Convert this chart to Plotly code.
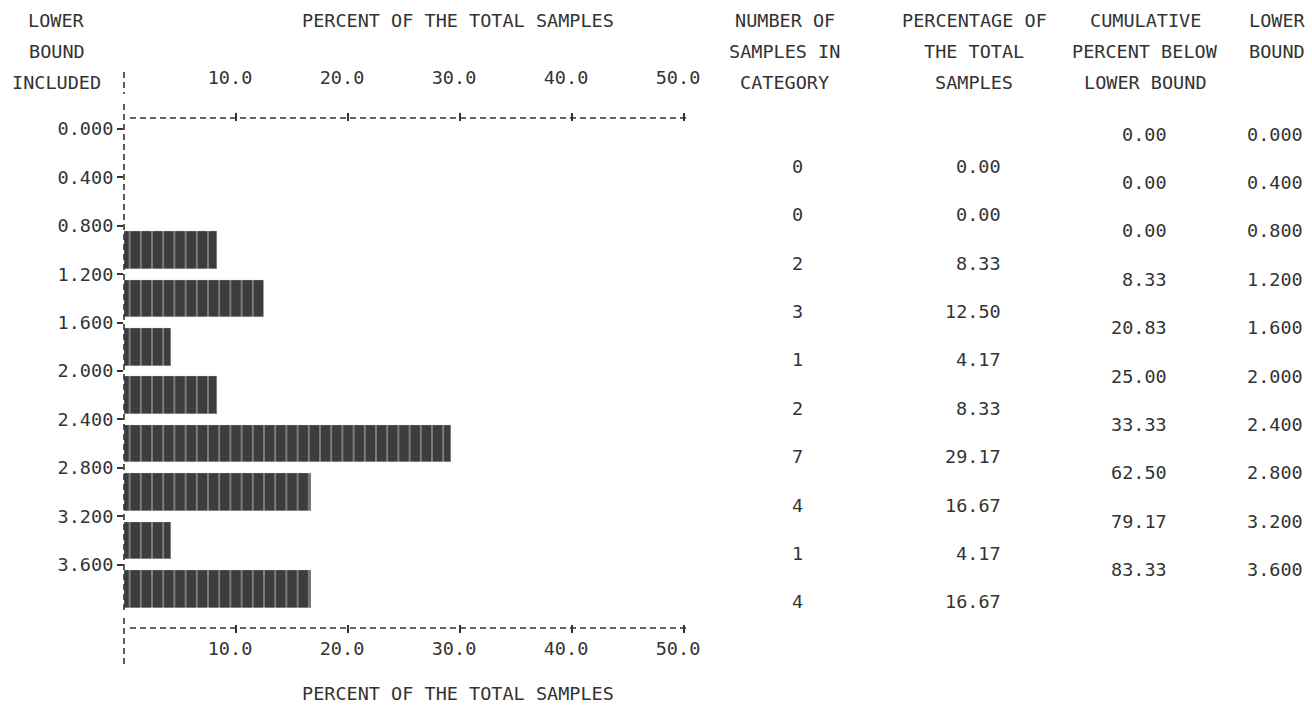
import plotly.graph_objects as go

# ---------------- data ----------------
bin_lower = [0.0, 0.4, 0.8, 1.2, 1.6, 2.0, 2.4, 2.8, 3.2, 3.6]
bound_labels = ["0.000", "0.400", "0.800", "1.200", "1.600",
                "2.000", "2.400", "2.800", "3.200", "3.600"]
counts = [0, 0, 2, 3, 1, 2, 7, 4, 1, 4]
percent = [0.00, 0.00, 8.33, 12.50, 4.17, 8.33, 29.17, 16.67, 4.17, 16.67]
cum_below = [0.00, 0.00, 0.00, 8.33, 20.83, 25.00, 33.33, 62.50, 79.17, 83.33]
bin_width = 0.4
x_ticks = [10, 20, 30, 40, 50]
x_tick_labels = ["10.0", "20.0", "30.0", "40.0", "50.0"]
axis_title = "PERCENT OF THE TOTAL SAMPLES"

W, H = 1312, 711
INK = "#333333"
FONT = "DejaVu Sans Mono, monospace"
FS = 18.5


def px(x):
    return x / W


def py(y):
    return 1 - y / H


mid = [b + bin_width / 2 for b in bin_lower]

fig = go.Figure()
fig.add_trace(go.Bar(
    x=percent, y=mid, orientation="h", width=0.31,
    marker=dict(color="#3d3d3d", line=dict(width=0),
                pattern=dict(shape="|", fgcolor="#e6e6e6", bgcolor="#3d3d3d",
                             size=11.2, solidity=0.13)),
    xaxis="x", yaxis="y", showlegend=False, hoverinfo="skip"))
fig.add_trace(go.Bar(x=percent, y=mid, orientation="h", width=0.31,
                     marker=dict(color="rgba(0,0,0,0)"), xaxis="x2", yaxis="y",
                     showlegend=False, hoverinfo="skip"))

x0, x50 = 124, 684
ytop, ybot = 122, 624
b_px0, b_scale = 129, 121.0
y_hi = (ybot - b_px0) / b_scale
y_lo = (ytop - b_px0) / b_scale

axis_common = dict(range=[0, 50], domain=[px(x0), px(x50)], showgrid=False,
                   zeroline=False, showline=False, ticks="outside", ticklen=8,
                   tickwidth=1.5, tickcolor=INK, tickvals=x_ticks,
                   ticktext=x_tick_labels, automargin=False, ticklabelshift=-6,
                   tickfont=dict(family=FONT, size=FS, color=INK))
fig.update_layout(
    width=W, height=H, autosize=False,
    margin=dict(l=0, r=0, t=0, b=0, pad=0, autoexpand=False),
    paper_bgcolor="white", plot_bgcolor="white",
    bargap=0,
    xaxis=dict(**axis_common, side="bottom", anchor="y", ticklabelstandoff=0),
    xaxis2=dict(**axis_common, side="top", anchor="y", overlaying="x",
                ticklabelstandoff=22),
    yaxis=dict(range=[y_hi, y_lo], domain=[py(ybot), py(ytop)], anchor="x",
               showgrid=False, zeroline=False, showline=False, automargin=False,
               ticks="outside", ticklen=6, tickwidth=1.5, tickcolor=INK,
               tickvals=bin_lower, ticktext=bound_labels,
               tickfont=dict(family=FONT, size=FS, color=INK)),
)

dash = "6px,4px"
shapes = []
for (ya, yb) in [(72, 94), (104, 612), (618, 668)]:
    shapes.append(dict(type="line", xref="paper", yref="paper",
                       x0=px(124), x1=px(124), y0=py(ya), y1=py(yb),
                       line=dict(color=INK, width=1.6, dash=dash)))
for yy in (118, 628):
    shapes.append(dict(type="line", xref="paper", yref="paper",
                       x0=px(130), x1=px(686), y0=py(yy), y1=py(yy),
                       line=dict(color=INK, width=1.6, dash=dash)))
fig.update_layout(shapes=shapes)

ann = []


def text(s, x, y, anchor="center", yref="paper", yshift=0):
    ann.append(dict(text=s, x=px(x), y=y if yref != "paper" else py(y),
                    xref="paper", yref=yref, xanchor=anchor, yanchor="middle",
                    showarrow=False, yshift=yshift,
                    font=dict(family=FONT, size=FS, color=INK)))


hdr_rows = [20, 51, 82]
for s, r in zip(["LOWER", "BOUND", "INCLUDED"], hdr_rows):
    text(s, 57, r)
text(axis_title, 458, hdr_rows[0])
text(axis_title, 458, 693)

cols = [
    (["NUMBER OF", "SAMPLES IN", "CATEGORY"], 785),
    (["PERCENTAGE OF", "THE TOTAL", "SAMPLES"], 974),
    (["CUMULATIVE", "PERCENT BELOW", "LOWER BOUND"], 1145),
    (["LOWER", "BOUND"], 1277),
]
for lines, cx in cols:
    for s, r in zip(lines, hdr_rows):
        text(s, cx, r)

for m, c, p in zip(mid, counts, percent):
    text(str(c), 797, m, anchor="center", yref="y", yshift=-13)
    text(f"{p:.2f}", 1003, m, anchor="right", yref="y", yshift=-13)
for b, cb, lb in zip(bin_lower, cum_below, bound_labels):
    text(f"{cb:.2f}", 1169, b, anchor="right", yref="y", yshift=-5)
    text(lb, 1305, b, anchor="right", yref="y", yshift=-5)

fig.update_layout(annotations=ann)
fig.write_html("out.html", config={"displayModeBar": False},
               post_script="document.body.style.margin='0';"
                           "document.body.style.overflow='hidden';")
